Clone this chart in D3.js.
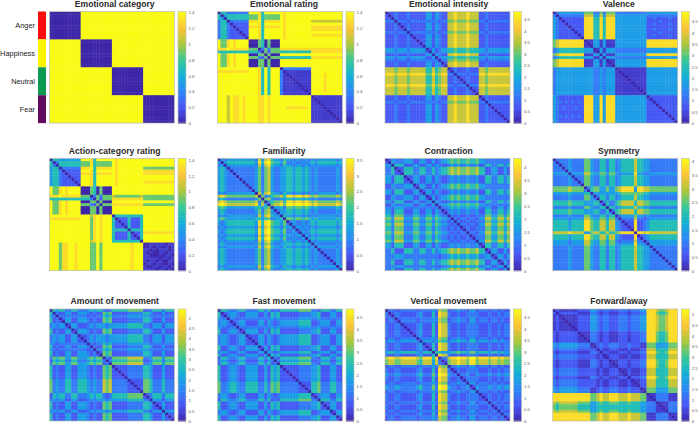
<!DOCTYPE html>
<html><head><meta charset="utf-8">
<style>html,body{margin:0;padding:0;background:#fff}svg{display:block}text{font-family:"Liberation Sans",Arial,sans-serif}</style>
<script src="https://cdn.jsdelivr.net/npm/d3@7"></script></head><body><div id="c"></div>
<script>
const titles=["Emotional category","Emotional rating","Emotional intensity","Valence","Action-category rating","Familiarity","Contraction","Symmetry","Amount of movement","Fast movement","Vertical movement","Forward/away"];
const maxima=[1.414,1.414,4.83,4.94,1.42,3.55,4.32,4.12,5.42,4.86,4.86,5.25];
const tickSteps=[0.2,0.2,0.5,0.5,0.2,0.5,0.5,0.5,0.5,0.5,0.5,0.5];
const categories=["Anger","Happiness","Neutral","Fear"];
const categoryColors=["#fb0d0d","#fbf500","#0b9a52","#5e0a5e"];
const parulaStops=["#3e26a8","#4854f4","#2d87f7","#11b1d6","#37c897","#abc739","#fec338","#f9fb14"];
const levelShare=[0,0.07,0.16,0.25,0.36,0.5,0.63,0.76,0.92,1];

/* Upper triangles of the matrices; each digit is a level 0-9 on the colour bar, looked up in levelShare. */
const emotionalCategory=[
"000000000 9999999999 9999999999 9999999999","00000000 9999999999 9999999999 9999999999","0000000 9999999999 9999999999 9999999999","000000 9999999999 9999999999 9999999999","00000 9999999999 9999999999 9999999999","0000 9999999999 9999999999 9999999999","000 9999999999 9999999999 9999999999","00 9999999999 9999999999 9999999999","0 9999999999 9999999999 9999999999","9999999999 9999999999 9999999999",
"000000000 9999999999 9999999999","00000000 9999999999 9999999999","0000000 9999999999 9999999999","000000 9999999999 9999999999","00000 9999999999 9999999999","0000 9999999999 9999999999","000 9999999999 9999999999","00 9999999999 9999999999","0 9999999999 9999999999","9999999999 9999999999",
"000000000 9999999999","00000000 9999999999","0000000 9999999999","000000 9999999999","00000 9999999999","0000 9999999999","000 9999999999","00 9999999999","0 9999999999","9999999999",
"000000000","00000000","0000000","000000","00000","0000","000","00","0",""];
const emotionalRating=[
"553333333 9998599999 9899999999 9999999999","45555555 6668566666 9899999999 9999999999","5555555 6668566666 9899999999 9999999999","333333 8889588888 9899999999 7777777777","22222 9998599999 9899999999 9999999999","2222 8888588888 9899999999 8888888888","222 9998599999 9899999999 8888888888","22 9998599999 9899999999 9999999999","2 9998599999 9899999999 8888888888","9998599999 9899999999 9999999999",
"006506000 9999999999 9999999999","06506000 9999999999 9999999999","6506000 9999999999 9999999999","363666 8888888888 8888888888","62666 5555555555 8888888888","6000 9999999999 9999999999","666 5555555555 8888888888","00 9999999999 9999999999","0 9999999999 9999999999","9999999999 9999999999",
"333333333 9999999999","11111111 9999999999","1111111 9999899999","111111 9999899999","11111 9999899999","1111 9999899999","111 9999899999","11 9999899999","1 9999899999","9999999999",
"111111111","11111111","1111111","111111","11111","1111","111","11","1",""];
const emotionalIntensity=[
"223222322 2224424322 7787778777 2232222222","23222322 2224424322 7787778777 2232222222","3222322 2224424322 7787778777 2232222222","333233 3333333233 6676667666 3323333333","22322 2224424322 7787778777 2232222222","2322 2224424322 7787778777 2232222222","322 2224424322 7787778777 2232222222","33 3333333233 6676667666 3323333333","2 2224424322 7787778777 2232222222","2224424322 7787778777 2232222222",
"224424322 7787778777 2232222222","24424322 7787778777 2232222222","4424322 7787778777 2232222222","242344 5565556555 4434444444","42344 5565556555 4434444444","4322 7787778777 2232222222","344 5565556555 4434444444","33 6676667666 3323333333","2 7787778777 2232222222","7787778777 2232222222",
"232223222 7767777777","32223222 7767777777","3332333 8878888888","223222 7767777777","23222 7767777777","3222 7767777777","333 8878888888","22 7767777777","2 7767777777","7767777777",
"232222222","32222222","3333333","222222","22222","2222","222","22","2",""];
const valence=[
"344444444 6663363666 3333333333 4444444444","33333333 7774474777 4444444444 3333333333","2222222 8885585888 4444444444 2232222322","222222 8885585888 4444444444 2222322222","22222 8885585888 4444444444 2232222322","2222 8885585888 4444444444 2222222222","222 8885585888 4444444444 2232222322","22 8885585888 4444444444 2222322222","2 8885585888 4444444444 2232222322","8885585888 4444444444 2222222222",
"114414111 4444444444 8888888888","14414111 4444444444 8888888888","4414111 4444444444 8888888888","141444 3333333333 4444444444","41444 3333333333 4444444444","4111 4444444444 8888888888","444 3333333333 4444444444","11 4444444444 8888888888","1 4444444444 8888888888","4444444444 8888888888",
"111111111 4444444444","11111111 4444444444","1111111 4444444444","111111 4444444444","11111 4444444444","1111 4444444444","111 4444444444","11 4444444444","1 4444444444","4444444444",
"222222222","22222222","2222222","222222","22222","2222","222","22","2",""];
const actionCategoryRating=[
"554444444 9998599999 9899999999 9999999999","35555555 6668566666 9899999999 9999999999","5555555 6668566666 9899999999 9999999999","333333 8889588888 9899999999 6666666666","22222 9998599999 9899999999 8888888888","2222 8888588888 9899999999 8888888888","222 9998599999 9899999999 9999999999","22 9998599999 9899999999 9999999999","2 9998599999 9899999999 8888888888","9998599999 9899999999 9999999999",
"006506000 9999999999 9999999999","06506000 9999999999 9999999999","6506000 9999999999 9999999999","363666 7666666667 6666666666","62666 8888888888 6666666666","6000 9999999999 9999999999","666 8888888888 6666666666","00 9999999999 9999999999","0 9999999999 9999999999","9999999999 9999999999",
"555555555 9999999999","22252225 9999999999","2252225 9999999999","252225 9999999999","52225 9999999999","5555 9999999999","225 8888888888","25 9999999999","5 9999999999","9999999999",
"011111011","10110101","1011101","011011","10110","1101","011","10","1",""];
const familiarity=[
"434444444 4437478544 3544344343 4344444434","45555555 5548589655 4633433434 5455555545","4444444 4437478544 3544344343 4344444434","333333 3346367433 4455455454 3433333343","33333 3346367433 4455455454 3433333343","3333 3346367433 4455455454 3433333343","333 3346367433 4455455454 3433333343","33 3346367433 4455455454 3433333343","3 3346367433 4455455454 3433333343","3346367433 4455455454 3433333343",
"346367433 4455455454 3433333343","46367433 4455455454 3433333343","7478544 3544344343 4344444434","634566 7588788787 6766666676","67433 4455455454 3433333343","4566 7588788787 6766666676","677 8699899898 7877777787","44 5366566565 4544444454","3 4455455454 3433333343","4455455454 3433333343",
"544344343 4344444434","66566565 4544444454","3433434 5455555545","433434 5455555545","44343 4344444434","3434 5455555545","434 5455555545","43 4344444434","4 5455555545","4344444434",
"433333343","44444434","3333343","333343","33343","3343","343","43","4",""];
const contraction=[
"243334442 2442242344 5656556556 4433333333","43334442 2442242344 5656556556 4433333333","5552224 4224424322 3434334334 2255335535","225553 3553353455 6767667667 5522442242","25553 3553353455 6767667667 5522442242","5553 3553353455 6767667667 5522442242","224 4224424322 3434334334 2255335535","24 4224424322 3434334334 2255335535","4 4224424322 3434334334 2255335535","2442242344 5656556556 4433333333",
"442242344 5656556556 4433333333","24424322 3434334334 2255335535","4424322 3434334334 2255335535","242344 5656556556 4433333333","42344 5656556556 4433333333","4322 3434334334 2255335535","344 5656556556 4433333333","33 4545445445 3344224424","2 3434334334 2255335535","3434334334 2255335535",
"323223223 3366446646","32332332 4477557757","3223223 3366446646","332332 4477557757","23223 3366446646","3223 3366446646","332 4477557757","23 3366446646","3 3366446646","4477557757",
"255335535","55335535","2442242","442242","24424","4424","242","42","4",""];
const symmetry=[
"333343333 6643355355 3455557554 4333333333","33343333 6643355355 3455557554 4333333333","3343333 6643355355 3455557554 4333333333","343333 6643355355 3455557554 4333333333","43333 6643355355 3455557554 4333333333","4444 7754466466 4344448443 3444444444","333 6643355355 3455557554 4333333333","33 6643355355 3455557554 4333333333","3 6643355355 3455557554 4333333333","6643355355 3455557554 4333333333",
"356644644 6788884887 7666666666","56644644 6788884887 7666666666","4444444 4566666665 5444444444","355355 3455557554 4333333333","55355 3455557554 4333333333","3533 5677775776 6555555555","533 5677775776 6555555555","55 3455557554 4333333333","3 5677775776 6555555555","5677775776 6555555555",
"344446443 4333333333","33337332 3444444444","2228223 4555555555","228223 4555555555","28223 4555555555","8223 4555555555","887 8777777777","23 4555555555","3 4555555555","3444444444",
"444444444","33333333","3333333","333333","33333","3333","333","33","3",""];
const amountOfMovement=[
"545533553 3345455323 5555566666 2235553555","32244224 4432322656 2222233333 5542224222","3333333 3323233545 3333344444 4433333333","244224 4432322656 2222233333 5542224222","44224 4432322656 2222233333 5542224222","2442 2234344434 4444455555 3324442444","442 2234344434 4444455555 3324442444","24 4432322656 2222233333 5542224222","4 4432322656 2222233333 5542224222","2234344434 4444455555 3324442444",
"234344434 4444455555 3324442444","34344434 4444455555 3324442444","3233545 3333344444 4433333333","322656 2222233333 5542224222","33545 3333344444 4433333333","2656 2222233333 5542224222","656 2222233333 5542224222","32 6666677777 3346664666","3 5555566666 2235553555","6666677777 3346664666",
"222233333 5542224222","22233333 5542224222","2233333 5542224222","233333 5542224222","33333 5542224222","2222 6653335333","222 6653335333","22 6653335333","2 6653335333","6653335333",
"235553555","35553555","4442444","224222","24222","4222","444","22","2",""];
const fastMovement=[
"554334553 3335535232 5555556666 3325553355","23443224 4442242545 2222223333 4452224422","3443224 4442242545 2222223333 4452224422","332333 3333333434 3333334444 3343333333","23442 2224424323 4444445555 2234442244","3442 2224424323 4444445555 2234442244","333 3333333434 3333334444 3343333333","24 4442242545 2222223333 4452224422","4 4442242545 2222223333 4452224422","2224424323 4444445555 2234442244",
"224424323 4444445555 2234442244","24424323 4444445555 2234442244","4424323 4444445555 2234442244","242545 2222223333 4452224422","42545 2222223333 4452224422","4323 4444445555 2234442244","545 2222223333 4452224422","32 5555556666 3325553355","3 4444445555 2234442244","5555556666 3325553355",
"222223333 4452224422","22223333 4452224422","2223333 4452224422","223333 4452224422","23333 4452224422","3333 4452224422","222 5563335533","22 5563335533","2 5563335533","5563335533",
"234442244","34442244","5553355","224422","24422","4422","244","44","2",""];
const verticalMovement=[
"332233333 2333343766 2334332442 3332332322","23322222 3422252877 3223223333 2223223233","3322222 3422252877 3223223333 2223223233","233333 2333343766 2334332442 3332332322","33333 2333343766 2334332442 3332332322","2222 3422252877 3223223333 2223223233","222 3422252877 3223223333 2223223233","22 3422252877 3223223333 2223223233","2 3422252877 3223223333 2223223233","3422252877 3223223333 2223223233",
"333343766 2334332442 3332332322","44434655 3445443553 4443443433","2252877 3223223333 2223223233","252877 3223223333 2223223233","52877 3223223333 2223223233","5544 4556554664 5554554544","877 3223223333 2223223233","33 7889887997 8887887877","2 6778776886 7776776766","6778776886 7776776766",
"334332442 3332332322","23223333 2223223233","3223333 2223223233","334224 3334334344","23333 2223223233","3333 2223223233","442 3332332322","24 3334334344","4 3334334344","3332332322",
"223223233","23223233","3223233","332322","23233","3233","322","33","2",""];
const forwardAway=[
"211111122 2244323322 2333233344 8887667888","22222211 1133212211 1222122233 8886556888","1111122 2244323322 2333233344 8887667888","111122 2244323322 2333233344 8887667888","11122 2244323322 2333233344 8887667888","1122 2244323322 2333233344 8887667888","122 2244323322 2333233344 8887667888","22 2244323322 2333233344 8887667888","1 1133212211 1222122233 8886556888","1133212211 1222122233 8886556888",
"133212211 1222122233 8886556888","33212211 1222122233 8886556888","1232233 3222322211 6664444666","232233 3222322211 6664444666","21122 2111211122 7775555777","2211 1222122233 8886556888","122 2111211122 7775555777","22 2111211122 7775555777","1 1222122233 8886556888","1222122233 8886556888",
"222122233 8886556888","11211122 7775555777","1211122 7775555777","211122 7775555777","22233 8886556888","1122 7775555777","122 7775555777","22 7775555777","1 6664444666","6664444666",
"113333111","13333111","3333111","111333","11333","1333","333","11","1",""];
const matrices=[emotionalCategory,emotionalRating,emotionalIntensity,valence,actionCategoryRating,familiarity,contraction,symmetry,amountOfMovement,fastMovement,verticalMovement,forwardAway];

const W=698,H=423,N=40;
const colLeft=[49.4,217.4,385,552.7],rowTop=[11.5,158.3,309],rowH=[111.6,112.4,112],titleY=[6.5,154,304],titleX=[114.7,284,448.6,618.8],mapW=125;
const parula=d3.scaleLinear().domain(parulaStops.map((_,i)=>i/(parulaStops.length-1))).range(parulaStops).interpolate(d3.interpolateRgb).clamp(true);
const svg=d3.select("#c").append("svg").attr("width",W).attr("height",H);
const defs=svg.append("defs");
defs.append("filter").attr("id","soft").attr("x","-5%").attr("y","-5%").attr("width","110%").attr("height","110%")
  .append("feGaussianBlur").attr("stdDeviation",0.65);

function cellsOf(rows,max){
  const clean=rows.map(s=>s.replace(/ /g,""));
  const out=[];
  for(let i=0;i<N;i++){
    out.push({i,j:i,v:0});
    for(let j=i+1;j<N;j++){
      const ch=clean[i][j-i-1];
      const v=levelShare[+(ch===undefined?clean[i].slice(-1)||"0":ch)]*max;
      out.push({i,j,v},{i:j,j:i,v});
    }
  }
  return out;
}

matrices.forEach((rows,k)=>{
  const c=k%4,r=Math.floor(k/4),x0=colLeft[c],y0=rowTop[r],h=rowH[r],max=maxima[k];
  const g=svg.append("g");
  const color=d3.scaleLinear().domain([0,max]).range([0,1]);
  const xs=d3.scaleBand().domain(d3.range(N)).range([x0,x0+mapW]);
  const ys=d3.scaleBand().domain(d3.range(N)).range([y0,y0+h]);
  defs.append("clipPath").attr("id","clip"+k).append("rect").attr("x",x0).attr("y",y0).attr("width",mapW).attr("height",h);
  g.append("g").attr("clip-path",`url(#clip${k})`).append("g").attr("filter","url(#soft)")
    .selectAll("rect").data(cellsOf(rows,max)).join("rect")
    .attr("x",d=>xs(d.j)).attr("y",d=>ys(d.i)).attr("width",xs.bandwidth()+.4).attr("height",ys.bandwidth()+.4)
    .attr("fill",d=>parula(color(d.v)));
  g.append("rect").attr("x",x0).attr("y",y0).attr("width",mapW).attr("height",h).attr("fill","none").attr("stroke","#b9bbb0").attr("stroke-width",.7);
  g.append("text").attr("x",titleX[c]).attr("y",titleY[r]).attr("text-anchor","middle").attr("font-size",8.6).attr("font-weight","bold").attr("fill","#2b2b2b").text(titles[k]);

  // colour bar
  const cbX=x0+128.6,cbW=8;
  const cy=d3.scaleLinear().domain([0,max]).range([y0+h,y0]);
  const levels=d3.range(0,64);
  g.append("g").selectAll("rect").data(levels).join("rect")
    .attr("x",cbX).attr("width",cbW)
    .attr("y",d=>cy((d+1)/64*max)).attr("height",d=>cy(d/64*max)-cy((d+1)/64*max)+.5)
    .attr("fill",d=>parula((d+.5)/64));
  g.append("rect").attr("x",cbX).attr("y",y0).attr("width",cbW).attr("height",h).attr("fill","none").attr("stroke","#c4c5b8").attr("stroke-width",.7);
  const step=tickSteps[k],tv=d3.range(0,Math.floor(max/step+1e-6)+1).map(n=>+(n*step).toFixed(1));
  const ax=g.append("g").attr("transform",`translate(${cbX+cbW},0)`).call(d3.axisRight(cy).tickValues(tv).tickSize(0).tickPadding(2.4).tickFormat(d3.format("~g")));
  ax.select(".domain").remove();
  ax.selectAll("text").attr("font-size",4.3).attr("fill","#555").style("font-family",'"Liberation Sans",Arial,sans-serif');
});

// category legend beside the first panel
const catBand=d3.scaleBand().domain(categories).range([rowTop[0],rowTop[0]+rowH[0]]);
const legend=svg.append("g");
legend.selectAll("rect").data(categories).join("rect").attr("x",38).attr("width",8).attr("y",d=>catBand(d)).attr("height",catBand.bandwidth()).attr("fill",(d,i)=>categoryColors[i]);
legend.selectAll("text").data(categories).join("text").attr("x",35).attr("y",d=>catBand(d)+catBand.bandwidth()/2+2.6).attr("text-anchor","end").attr("font-size",7.4).attr("fill","#222").text(d=>d);
</script></body></html>
